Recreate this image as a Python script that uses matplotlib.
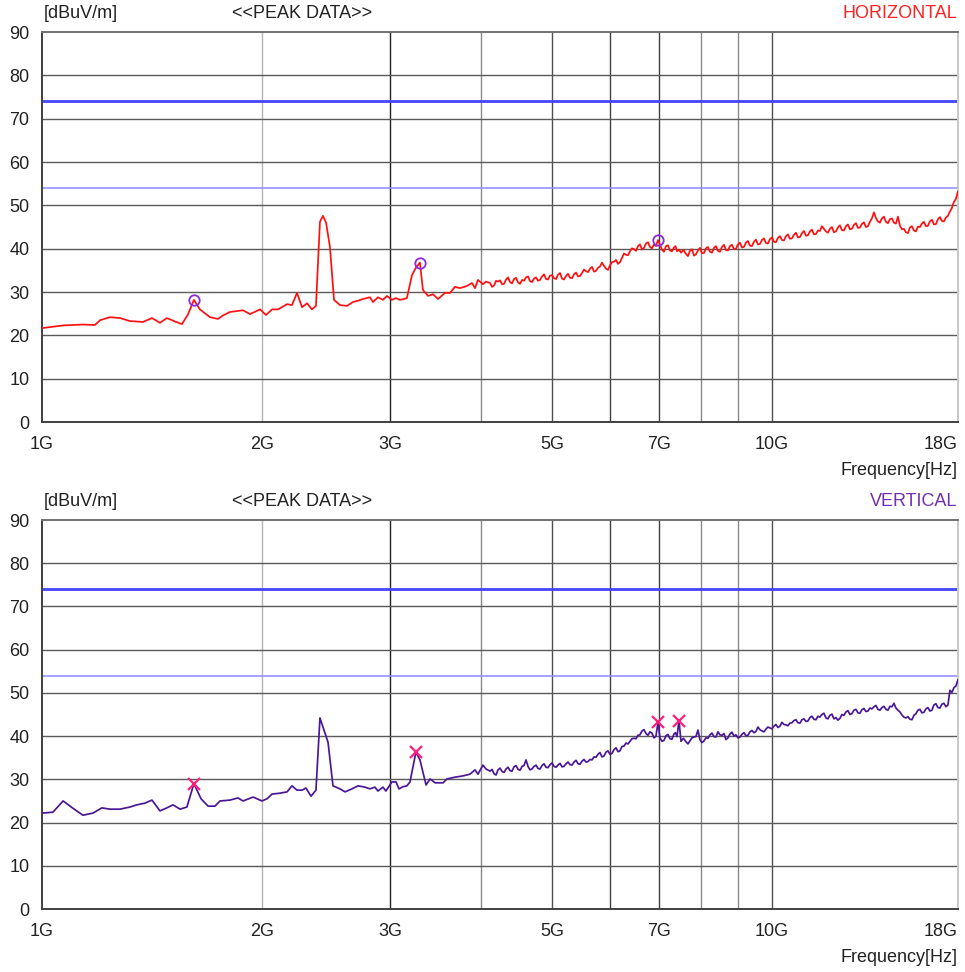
import matplotlib
matplotlib.use("Agg")
import matplotlib.pyplot as plt
from matplotlib.ticker import NullFormatter, NullLocator

plt.rcParams['font.family'] = ['Liberation Sans', 'DejaVu Sans']

# ---------------- data (frequency in GHz, level in dBuV/m) ----------------
# sparse sweep points below ~4 GHz, horizontal polarisation
freq_h_low = [1.003, 1.035, 1.069, 1.138, 1.182, 1.201, 1.239, 1.279, 1.320, 1.375,
              1.415, 1.451, 1.483, 1.522, 1.555, 1.585, 1.615, 1.646, 1.699, 1.743,
              1.770, 1.810, 1.886, 1.928, 1.990, 2.028, 2.067, 2.106, 2.167, 2.201,
              2.236, 2.272, 2.308, 2.344, 2.374, 2.404, 2.427, 2.451, 2.481, 2.513,
              2.561, 2.618, 2.668, 2.711, 2.754, 2.815, 2.842, 2.887, 2.933, 2.970,
              3.017, 3.056, 3.094, 3.134, 3.163, 3.214, 3.254, 3.296, 3.327, 3.381,
              3.435, 3.489, 3.567, 3.624, 3.681, 3.740, 3.823, 3.884, 3.921, 3.958,
              4.021, 4.059]
level_h_low = [21.7, 22.0, 22.3, 22.5, 22.4, 23.5, 24.2, 24.0, 23.3, 23.1,
               24.0, 22.9, 24.0, 23.2, 22.6, 24.8, 28.2, 26.0, 24.2, 23.8,
               24.6, 25.4, 25.8, 24.9, 26.0, 24.7, 26.0, 26.0, 27.2, 27.0,
               29.8, 26.5, 27.4, 26.0, 26.8, 46.2, 47.6, 46.0, 40.4, 28.2,
               27.0, 26.8, 27.7, 28.0, 28.4, 28.8, 27.7, 28.8, 28.2, 29.1,
               28.2, 28.6, 28.2, 28.4, 28.6, 33.9, 35.6, 36.8, 30.5, 29.1,
               29.5, 28.4, 29.8, 29.8, 31.2, 30.9, 31.4, 32.1, 30.9, 32.8,
               31.8, 32.4]

# sparse sweep points below ~4 GHz, vertical polarisation
freq_v_low = [1.003, 1.035, 1.069, 1.103, 1.138, 1.175, 1.208, 1.239, 1.279, 1.320,
              1.349, 1.384, 1.415, 1.451, 1.483, 1.512, 1.546, 1.580, 1.615, 1.652,
              1.689, 1.726, 1.754, 1.810, 1.856, 1.886, 1.947, 2.002, 2.034, 2.067,
              2.120, 2.167, 2.201, 2.236, 2.272, 2.300, 2.337, 2.374, 2.404, 2.434,
              2.466, 2.505, 2.561, 2.602, 2.660, 2.711, 2.771, 2.815, 2.859, 2.887,
              2.933, 2.960, 3.017, 3.056, 3.085, 3.124, 3.163, 3.194, 3.254, 3.296,
              3.360, 3.403, 3.457, 3.546, 3.589, 3.681, 3.776, 3.859, 3.921, 3.958,
              4.021, 4.059]
level_v_low = [22.2, 22.4, 25.0, 23.3, 21.7, 22.2, 23.4, 23.1, 23.1, 23.6,
               24.1, 24.5, 25.2, 22.7, 23.4, 24.1, 23.1, 23.6, 29.0, 25.5,
               23.8, 23.8, 25.0, 25.2, 25.7, 25.0, 25.9, 25.0, 25.5, 26.6,
               26.8, 27.1, 28.5, 27.5, 27.5, 28.0, 26.1, 27.5, 44.2, 41.5,
               38.6, 28.5, 27.8, 27.1, 27.8, 28.5, 28.2, 27.8, 28.2, 27.3,
               28.2, 27.3, 29.4, 29.4, 27.8, 28.3, 28.5, 29.4, 36.3, 34.5,
               28.7, 30.1, 29.2, 29.2, 30.1, 30.5, 30.8, 31.2, 32.2, 31.2,
               33.3, 32.4]

# dense sweep points from ~4 GHz to 18 GHz (shared by both polarisations)
freq_high = [4.112, 4.164, 4.217, 4.271, 4.325, 4.380, 4.435, 4.492, 4.549, 4.606,
             4.665, 4.724, 4.784, 4.845, 4.906, 4.969, 5.032, 5.096, 5.160, 5.226,
             5.292, 5.360, 5.428, 5.497, 5.566, 5.637, 5.709, 5.781, 5.854, 5.929,
             6.004, 6.080, 6.157, 6.235, 6.315, 6.395, 6.476, 6.558, 6.641, 6.726,
             6.811, 6.897, 6.985, 7.074, 7.163, 7.254, 7.347, 7.418, 7.464, 7.511,
             7.630, 7.727, 7.825, 7.924, 8.025, 8.127, 8.230, 8.335, 8.441, 8.548,
             8.656, 8.766, 8.878, 8.990, 9.104, 9.220, 9.337, 9.456, 9.576, 9.697,
             9.820, 9.945, 10.071, 10.199, 10.329, 10.460, 10.593, 10.727, 10.864, 11.002,
             11.141, 11.283, 11.426, 11.571, 11.718, 11.867, 12.018, 12.170, 12.325, 12.481,
             12.640, 12.800, 12.963, 13.128, 13.294, 13.463, 13.634, 13.807, 13.983, 14.160,
             14.340, 14.522, 14.707, 14.894, 15.083, 15.274, 15.468, 15.665, 15.864, 16.065,
             16.269, 16.476, 16.685, 16.897, 17.112, 17.329, 17.549, 17.772, 17.998]
level_h_high = [32.1, 31.5, 32.4, 31.8, 32.9, 32.3, 33.0, 32.2, 32.8, 33.4,
                32.5, 33.1, 32.6, 33.6, 33.0, 33.8, 33.2, 34.0, 33.1, 33.7,
                33.3, 34.1, 33.6, 34.4, 34.8, 35.4, 34.7, 35.6, 36.8, 35.4,
                36.2, 37.0, 36.5, 37.9, 38.6, 39.4, 39.9, 40.6, 39.8, 41.2,
                40.4, 41.0, 42.0, 39.8, 40.6, 39.6, 40.3, 39.4, 39.8, 39.1,
                38.8, 39.5, 38.4, 39.6, 39.0, 40.1, 39.3, 40.2, 39.5, 40.4,
                39.7, 40.6, 39.9, 41.0, 40.3, 41.4, 40.7, 41.6, 41.0, 42.0,
                41.3, 42.2, 41.6, 42.5, 42.0, 42.9, 42.3, 43.2, 42.6, 43.6,
                43.0, 44.0, 43.3, 44.2, 45.2, 44.0, 44.6, 43.8, 44.9, 44.3,
                45.2, 44.5, 45.5, 44.8, 45.7, 45.0, 46.2, 48.4, 46.3, 47.0,
                46.2, 46.8, 46.0, 47.4, 44.5, 43.8, 44.9, 44.2, 45.1, 45.8,
                45.2, 46.3, 45.6, 46.8, 46.4, 47.2, 48.6, 50.8, 53.2]
level_v_high = [31.9, 31.3, 32.2, 31.8, 32.4, 32.0, 32.9, 32.3, 33.0, 34.5,
                32.2, 33.0, 32.5, 33.2, 32.8, 33.4, 33.0, 33.3, 32.9, 33.6,
                33.4, 34.0, 33.6, 34.2, 34.0, 34.6, 35.2, 35.8, 35.2, 36.3,
                35.8, 36.9, 36.4, 37.6, 38.4, 38.8, 39.5, 40.2, 41.2, 40.6,
                41.0, 39.6, 43.2, 38.8, 40.1, 39.4, 40.5, 39.9, 43.6, 38.8,
                38.7, 38.9, 39.8, 41.4, 38.5, 39.6, 40.3, 39.9, 41.0, 40.2,
                39.2, 40.5, 40.0, 39.6, 40.4, 40.1, 41.0, 40.8, 42.1, 41.2,
                41.6, 41.9, 42.3, 42.0, 43.2, 42.6, 43.0, 43.6, 43.1, 43.8,
                43.4, 44.3, 43.9, 44.6, 45.0, 44.2, 44.8, 44.0, 43.7, 45.0,
                45.6, 45.0, 46.0, 45.4, 46.1, 45.7, 46.5, 46.8, 46.2, 46.6,
                46.2, 46.9, 47.6, 46.0, 44.9, 44.2, 43.9, 44.8, 46.0, 45.4,
                46.3, 45.8, 47.2, 46.6, 47.4, 46.8, 50.6, 51.2, 53.0]

# interleaved sweep points of the dense region
freq_high_b = [4.138, 4.190, 4.244, 4.298, 4.352, 4.407, 4.463, 4.520, 4.577, 4.635,
               4.694, 4.754, 4.814, 4.875, 4.937, 5.000, 5.064, 5.128, 5.193, 5.259,
               5.326, 5.394, 5.462, 5.531, 5.601, 5.673, 5.745, 5.817, 5.891, 5.966,
               6.042, 6.118, 6.196, 6.275, 6.355, 6.435, 6.517, 6.599, 6.683, 6.768,
               6.854, 6.941, 7.029, 7.118, 7.208, 7.300, 7.382,
               7.570, 7.678, 7.776, 7.874, 7.974, 8.076, 8.178, 8.282, 8.388, 8.494,
               8.602, 8.711, 8.822, 8.934, 9.047, 9.162, 9.278, 9.396, 9.516, 9.636,
               9.758, 9.882, 10.008, 10.135, 10.264, 10.394, 10.526, 10.660, 10.795, 10.933,
               11.071, 11.212, 11.354, 11.498, 11.644, 11.792, 11.942, 12.094, 12.247, 12.403,
               12.560, 12.720, 12.881, 13.045, 13.211, 13.378, 13.548, 13.720, 13.895, 14.071,
               14.250, 14.431, 14.614, 14.800, 14.988, 15.178, 15.371, 15.566, 15.764, 15.964,
               16.167, 16.372, 16.580, 16.791, 17.004, 17.220, 17.439, 17.660, 17.885]
level_h_high_b = [31.2, 32.6, 32.7, 31.9, 33.4, 32.0, 33.3, 31.9, 32.6, 33.6,
                  32.3, 33.4, 32.8, 34.1, 32.9, 33.9, 33.0, 34.4, 32.9, 34.2,
                  33.2, 34.5, 33.7, 35.2, 34.6, 35.8, 34.9, 35.9, 36.0, 35.1,
                  36.9, 37.4, 36.9, 38.9, 38.5, 40.1, 39.5, 41.0, 40.2, 41.5,
                  40.1, 40.6, 40.9, 39.3, 40.8, 39.4, 40.6,
                  39.7, 38.3, 39.9, 38.7, 40.2, 39.0, 40.4, 39.1, 40.6, 39.3,
                  40.9, 39.6, 40.9, 40.0, 41.4, 40.4, 41.8, 40.6, 42.1, 41.1,
                  42.4, 41.2, 42.6, 41.5, 42.9, 41.9, 43.3, 42.4, 43.7, 42.7,
                  44.1, 43.1, 44.4, 43.4, 44.1, 44.6, 43.7, 45.0, 44.0, 45.4,
                  44.2, 45.6, 44.6, 45.9, 44.9, 46.1, 45.2, 47.0, 47.1, 46.0,
                  47.4, 45.9, 47.0, 45.8, 45.3, 44.6, 43.6, 45.2, 44.0, 45.0,
                  46.2, 45.3, 46.7, 45.7, 47.3, 46.3, 47.6, 49.4, 51.5]
level_v_high_b = [32.3, 31.0, 32.6, 31.6, 32.8, 31.9, 33.2, 32.1, 33.2, 33.0,
                  32.4, 33.3, 32.4, 33.6, 32.7, 33.8, 32.8, 33.7, 33.0, 34.0,
                  33.3, 34.4, 33.5, 34.6, 34.1, 34.5, 35.1, 36.2, 35.4, 36.6,
                  36.0, 37.3, 36.6, 37.7, 38.2, 39.4, 39.4, 40.3, 41.5, 40.2,
                  40.7, 40.0, 39.6, 39.0, 40.4, 39.3, 40.8,
                  39.5, 38.2, 39.6, 39.9, 39.2, 38.9, 39.5, 40.7, 39.8, 40.3,
                  40.6, 39.6, 40.9, 40.3, 39.8, 40.8, 40.2, 41.3, 41.1, 41.5,
                  41.0, 42.1, 41.7, 42.7, 42.3, 42.7, 42.4, 43.1, 43.8, 43.0,
                  44.0, 43.5, 44.6, 43.8, 44.4, 45.3, 44.0, 45.1, 44.3, 44.1,
                  44.8, 45.9, 45.2, 46.2, 45.3, 46.4, 45.8, 46.3, 47.1, 46.0,
                  46.9, 46.0, 46.8, 46.5, 45.6, 44.4, 44.5, 43.8, 45.2, 46.2,
                  45.5, 46.6, 46.0, 47.5, 46.5, 47.6, 47.2, 50.1, 51.6]

# detected peaks
peak_h_freq = [1.615, 3.296, 6.985]
peak_h_level = [28.2, 36.8, 42.0]
peak_v_freq = [1.615, 3.254, 6.985, 7.464]
peak_v_level = [29.0, 36.3, 43.2, 43.6]

# limit lines
limit_levels = [74, 54]

# axis labelling
x_ticks = [1, 2, 3, 5, 7, 10, 18]
x_tick_labels = ['1G', '2G', '3G', '5G', '7G', '10G', '18G']
y_ticks = [0, 10, 20, 30, 40, 50, 60, 70, 80, 90]
grid_freqs = [2, 3, 4, 5, 6, 7, 8, 9, 10]

# ---------------- styling ----------------
grid_v_colors = ['#b4b4b4', '#202020', '#8a8a8a', '#505050', '#404040',
                 '#404040', '#8a8a8a', '#8a8a8a', '#505050']
grid_h_color = '#5a5a5a'
limit_styles = [dict(color='#4444ff', lw=2.0), dict(color='#8c8cff', lw=1.1)]
text_color = '#222222'
fs = 13

fig = plt.figure(figsize=(9.65, 9.72), dpi=100)
ax_h = fig.add_axes([0.0435, 0.5658, 0.9492, 0.4012])
ax_v = fig.add_axes([0.0435, 0.0648, 0.9492, 0.4002])


def sweep(f_low, l_low, f_a, l_a, f_b, l_b):
    pts = sorted(zip(f_low + f_a + f_b, l_low + l_a + l_b))
    return [p[0] for p in pts], [p[1] for p in pts]


def draw_panel(ax, freqs, levels, trace_color, pol_name, pol_color):
    ax.set_xscale('log')
    ax.set_xlim(1, 18)
    ax.set_ylim(0, 90)

    for f, c in zip(grid_freqs, grid_v_colors):
        ax.axvline(f, color=c, lw=1.0, zorder=1)
    for y in y_ticks[1:-1]:
        ax.axhline(y, color=grid_h_color, lw=1.0, zorder=1)
    for lvl, st in zip(limit_levels, limit_styles):
        ax.axhline(lvl, zorder=2, **st)

    ax.plot(freqs, levels, color=trace_color, lw=1.25, zorder=3)

    ax.xaxis.set_minor_locator(NullLocator())
    ax.xaxis.set_minor_formatter(NullFormatter())
    ax.set_xticks(x_ticks)
    ax.set_xticklabels(x_tick_labels)
    ax.get_xticklabels()[-1].set_horizontalalignment('right')
    ax.get_xticklabels()[-1].set_x(18)
    ax.set_yticks(y_ticks)
    ax.tick_params(axis='both', length=0, labelsize=fs, colors=text_color)
    ax.tick_params(axis='x', pad=10)
    ax.tick_params(axis='y', pad=9)

    ax.spines['left'].set_color('#404040')
    ax.spines['bottom'].set_color('#404040')
    ax.spines['top'].set_color('#707070')
    ax.spines['right'].set_color('#c8c8c8')
    for s in ax.spines.values():
        s.set_linewidth(1.4)

    ax.text(0.002, 1.047, '[dBuV/m]', transform=ax.transAxes, fontsize=fs,
            color=text_color, ha='left', va='center')
    ax.text(0.284, 1.047, '<<PEAK DATA>>', transform=ax.transAxes, fontsize=fs,
            color=text_color, ha='center', va='center')
    ax.text(0.999, 1.047, pol_name, transform=ax.transAxes, fontsize=fs,
            color=pol_color, ha='right', va='center')
    ax.text(0.999, -0.124, 'Frequency[Hz]', transform=ax.transAxes, fontsize=fs,
            color=text_color, ha='right', va='center')


fh, lh = sweep(freq_h_low, level_h_low, freq_high, level_h_high, freq_high_b, level_h_high_b)
fv, lv = sweep(freq_v_low, level_v_low, freq_high, level_v_high, freq_high_b, level_v_high_b)

draw_panel(ax_h, fh, lh, '#ff1010', 'HORIZONTAL', '#ff2020')
ax_h.plot(peak_h_freq, peak_h_level, linestyle='none', marker='o', ms=7.5,
          mfc='none', mec='#8a2be2', mew=1.3, zorder=4)

draw_panel(ax_v, fv, lv, '#4a1796', 'VERTICAL', '#6f2fb5')
ax_v.plot(peak_v_freq, peak_v_level, linestyle='none', marker='x', ms=8,
          color='#ff1f7a', mew=1.6, zorder=4)

fig.savefig('out.png', dpi=100, facecolor='white')
